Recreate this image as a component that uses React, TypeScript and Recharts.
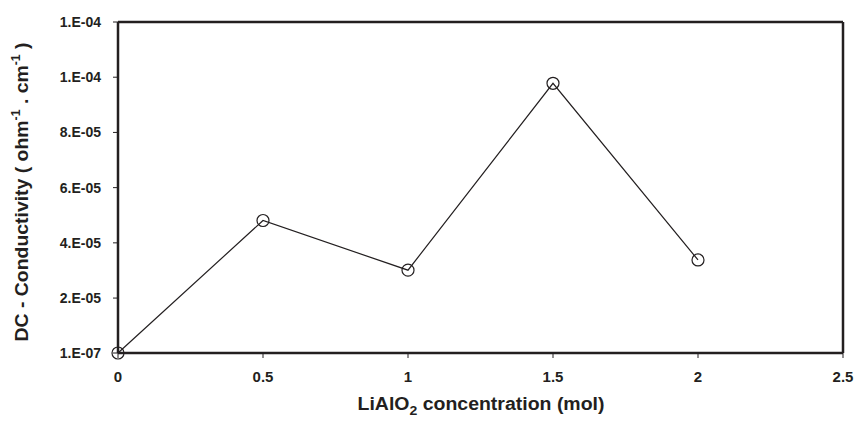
import React from "react"
import { LineChart, Line, XAxis, YAxis, ReferenceLine } from "recharts"

// LiAlO2 content (mol) vs DC conductivity
const concentration = [0, 0.5, 1, 1.5, 2]
const conductivity = [1e-7, 4.81e-5, 3.01e-5, 9.78e-5, 3.38e-5]

const xTicks = [0, 0.5, 1, 1.5, 2, 2.5]
const yTicks = [1e-7, 2e-5, 4e-5, 6e-5, 8e-5, 1e-4, 1.2e-4]
const yTickLabels = ["1.E-07", "2.E-05", "4.E-05", "6.E-05", "8.E-05", "1.E-04", "1.E-04"]

const data = concentration.map((x, i) => ({ x, y: conductivity[i] }))

const FONT = "'Liberation Sans', Arial, Helvetica, sans-serif"
const INK = "#231f20"

function XTick(props: any) {
  const { x, y, payload } = props
  return (
    <text x={x} y={y + 22} textAnchor="middle" fontFamily={FONT} fontWeight="bold" fontSize={15} fill={INK}>
      {String(payload.value)}
    </text>
  )
}

function YTick(props: any) {
  const { x, y, index } = props
  return (
    <text x={x - 2} y={y + 5} textAnchor="end" fontFamily={FONT} fontWeight="bold" fontSize={14} fill={INK}>
      {yTickLabels[index] ?? ""}
    </text>
  )
}

function YLabel() {
  // rotated title with superscripts
  return (
    <text
      transform="translate(28 192) rotate(-90)"
      textAnchor="middle"
      fontFamily={FONT}
      fontWeight="bold"
      fontSize={19}
      fill={INK}
      textLength={299}
      lengthAdjust="spacingAndGlyphs"
    >
      DC - Conductivity ( ohm
      <tspan dy={-8} fontSize={12}>-1</tspan>
      <tspan dy={8}> . cm</tspan>
      <tspan dy={-8} fontSize={12}>-1</tspan>
      <tspan dy={8}> )</tspan>
    </text>
  )
}

function XLabel() {
  return (
    <text
      x={481}
      y={410}
      textAnchor="middle"
      fontFamily={FONT}
      fontWeight="bold"
      fontSize={18}
      fill={INK}
      textLength={247}
      lengthAdjust="spacingAndGlyphs"
    >
      LiAlO
      <tspan dy={5} fontSize={13}>2</tspan>
      <tspan dy={-5}> concentration (mol)</tspan>
    </text>
  )
}

export default function App() {
  return (
    <div style={{ position: "absolute", left: 0, top: 0, width: 858, height: 421, background: "#fff" }}>
      <LineChart width={858} height={421} data={data} margin={{ top: 22, right: 15, bottom: 38, left: 58 }}>
        <XAxis
          dataKey="x"
          type="number"
          domain={[0, 2.5]}
          ticks={xTicks}
          height={30}
          tick={<XTick />}
          tickSize={5}
          tickMargin={2}
          axisLine={{ stroke: INK, strokeWidth: 2.5 }}
          tickLine={{ stroke: INK, strokeWidth: 1 }}
        />
        <YAxis
          type="number"
          domain={[1e-7, 1.2e-4]}
          ticks={yTicks}
          width={60}
          tick={<YTick />}
          tickSize={5}
          tickMargin={10}
          axisLine={{ stroke: INK, strokeWidth: 2.5 }}
          tickLine={{ stroke: INK, strokeWidth: 1 }}
          interval={0}
        />
        <ReferenceLine y={1.2e-4} stroke={INK} strokeWidth={2.5} />
        <ReferenceLine x={2.5} stroke={INK} strokeWidth={2.5} />
        <Line
          dataKey="y"
          stroke={INK}
          strokeWidth={1.2}
          isAnimationActive={false}
          dot={{ r: 6, stroke: INK, strokeWidth: 1.2, fill: "none" }}
          activeDot={false}
        />
        <YLabel />
        <XLabel />
      </LineChart>
    </div>
  )
}
